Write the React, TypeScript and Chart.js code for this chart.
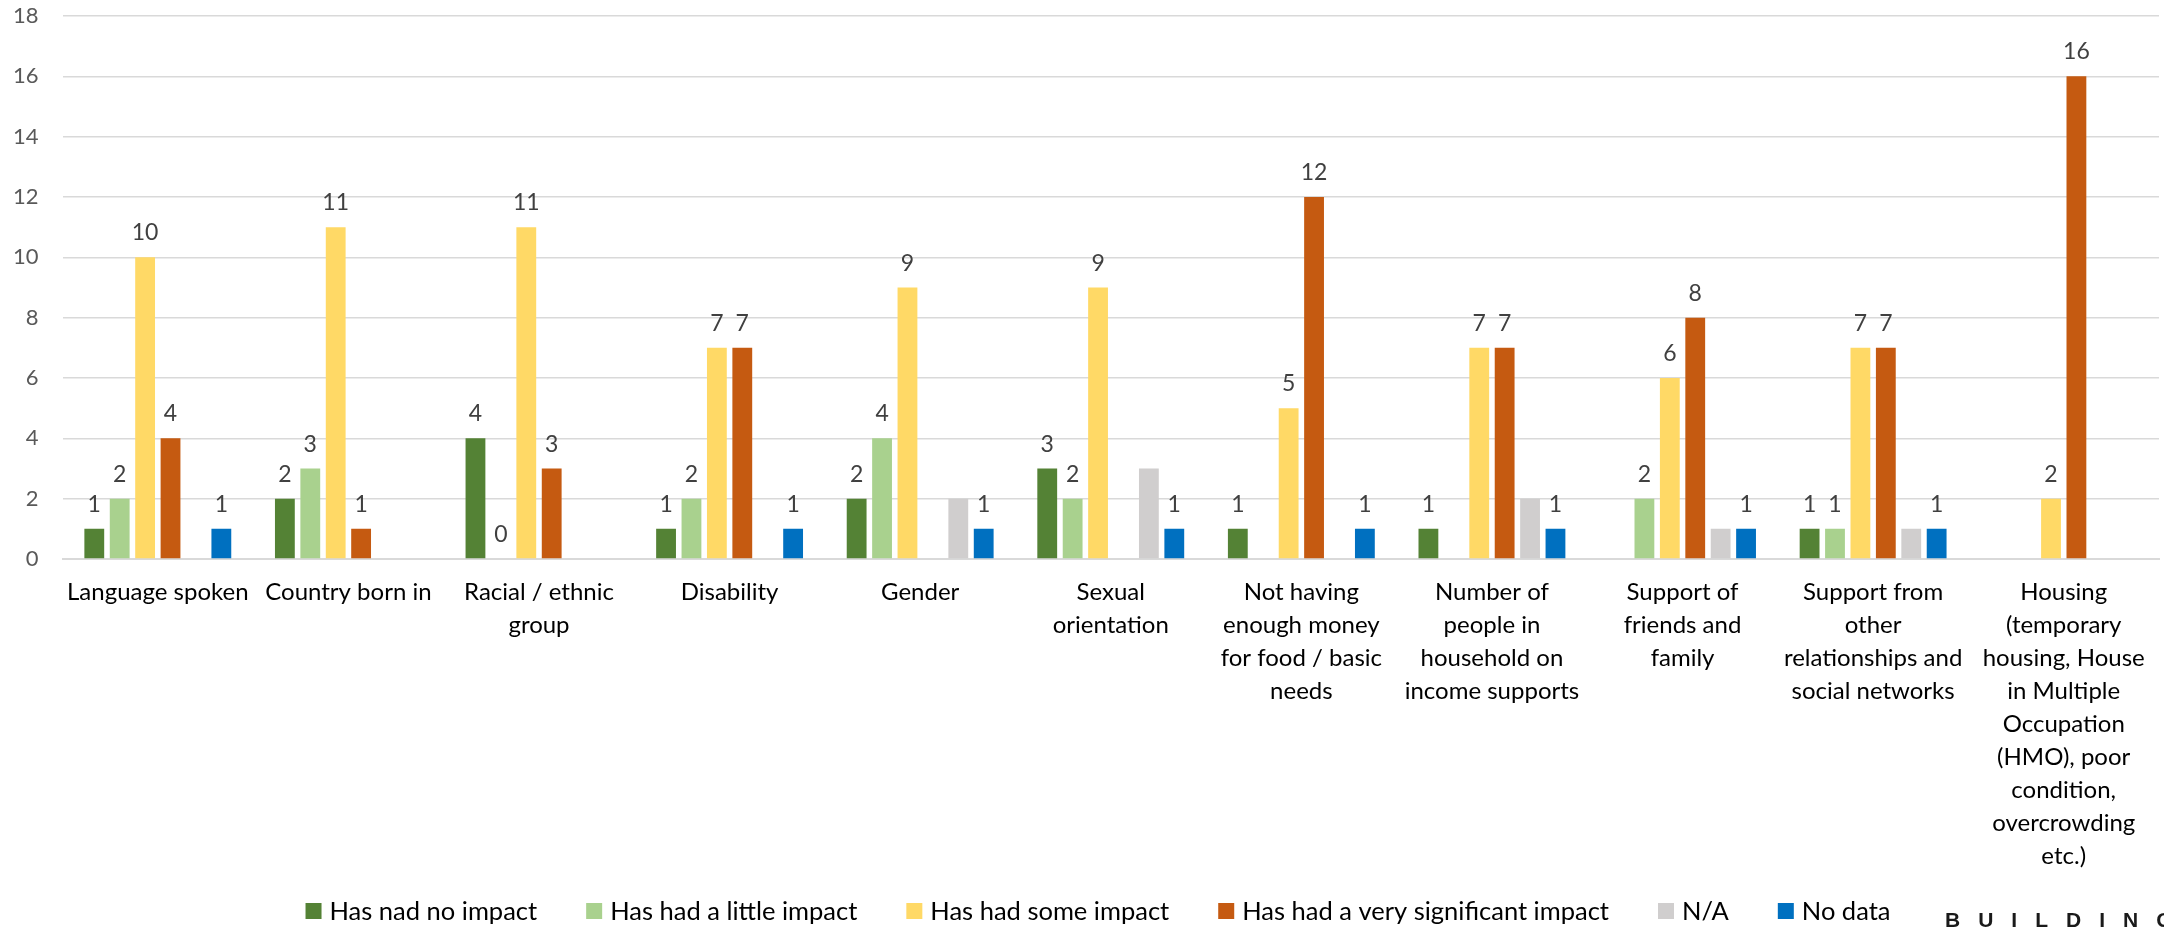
import React, { useEffect, useRef } from "react";
import { Chart, registerables } from "chart.js";

Chart.register(...registerables);

const categories: (string | string[])[] = [
  "Language spoken",
  "Country born in",
  ["Racial / ethnic", "group"],
  "Disability",
  "Gender",
  ["Sexual", "orientation"],
  ["Not having", "enough money", "for food / basic", "needs"],
  ["Number of", "people in", "household on", "income supports"],
  ["Support of", "friends and", "family"],
  ["Support from", "other", "relationships and", "social networks"],
  ["Housing", "(temporary", "housing, House", "in Multiple", "Occupation", "(HMO), poor", "condition,", "overcrowding", "etc.)"],
];

const seriesNames = [
  "Has nad no impact",
  "Has had a little impact",
  "Has had some impact",
  "Has had a very significant impact",
  "N/A",
  "No data",
];

const noImpact = [1, 2, 4, 1, 2, 3, 1, 1, null, 1, null];
const littleImpact = [2, 3, 0, 2, 4, 2, null, null, 2, 1, null];
const someImpact = [10, 11, 11, 7, 9, 9, 5, 7, 6, 7, 2];
const significantImpact = [4, 1, 3, 7, null, null, 12, 7, 8, 7, 16];
const notApplicable = [null, null, null, null, 2, 3, null, 2, 1, 1, null];
const noData = [1, null, null, 1, 1, 1, 1, 1, 1, 1, null];

const seriesColors = ["#548235", "#A9D18E", "#FFD966", "#C55A11", "#D0CECE", "#0070C0"];
const showValueLabels = [true, true, true, true, false, true];

const yTicks = [0, 2, 4, 6, 8, 10, 12, 14, 16, 18];

const brandText = "BUILDING";

const FONT = "Lato, 'Open Sans', sans-serif";
const X_PAD = 17;
const Y_PAD = 24;

const valueLabelPlugin = {
  id: "valueLabels",
  afterDatasetsDraw(chart: any) {
    const ctx = chart.ctx;
    ctx.save();
    ctx.font = `23px ${FONT}`;
    ctx.fillStyle = "#404040";
    ctx.textAlign = "center";
    ctx.textBaseline = "alphabetic";
    chart.data.datasets.forEach((ds: any, i: number) => {
      if (!showValueLabels[i]) return;
      const meta = chart.getDatasetMeta(i);
      meta.data.forEach((bar: any, j: number) => {
        const v = ds.data[j];
        if (v === null || v === undefined) return;
        ctx.fillText(String(v), bar.x, bar.y - 17);
      });
    });
    ctx.restore();
  },
};

const customLegendPlugin = {
  id: "customLegend",
  afterDraw(chart: any) {
    const ctx = chart.ctx;
    ctx.save();
    ctx.font = `25.5px ${FONT}`;
    const box = 16;
    const boxGap = 8;
    const itemGap = 49;
    const items = chart.data.datasets.map((ds: any) => ({
      text: ds.label as string,
      color: ds.backgroundColor as string,
      w: ctx.measureText(ds.label).width,
    }));
    const total =
      items.reduce((s: number, it: any) => s + box + boxGap + it.w, 0) + itemGap * (items.length - 1);
    let x = 1098 - total / 2;
    const cy = 911;
    ctx.textAlign = "left";
    ctx.textBaseline = "middle";
    items.forEach((it: any) => {
      ctx.fillStyle = it.color;
      ctx.fillRect(x, cy - box / 2, box, box);
      ctx.fillStyle = "#000";
      ctx.fillText(it.text, x + box + boxGap, cy + 1);
      x += box + boxGap + it.w + itemGap;
    });
    ctx.restore();
  },
};

const brandPlugin = {
  id: "brand",
  afterDraw(chart: any) {
    const ctx = chart.ctx;
    ctx.save();
    ctx.font = `bold 21px 'Liberation Sans', Arial, sans-serif`;
    ctx.fillStyle = "#1a1a1a";
    ctx.textAlign = "left";
    ctx.textBaseline = "alphabetic";
    (ctx as any).letterSpacing = "18px";
    ctx.fillText(brandText, 1945, 927);
    ctx.restore();
  },
};

export default function App() {
  const canvasRef = useRef<HTMLCanvasElement | null>(null);

  useEffect(() => {
    document.body.style.margin = "0";
    const canvas = canvasRef.current;
    if (!canvas) return;
    const values = [noImpact, littleImpact, someImpact, significantImpact, notApplicable, noData];
    const chart = new Chart(canvas, {
      type: "bar",
      data: {
        labels: categories,
        datasets: seriesNames.map((name, i) => ({
          label: name,
          data: values[i],
          backgroundColor: seriesColors[i],
          borderWidth: 0,
          categoryPercentage: 0.8,
          barPercentage: 0.78,
        })),
      },
      options: {
        animation: false,
        responsive: false,
        maintainAspectRatio: false,
        layout: { padding: { left: 13, right: 5, top: 16, bottom: 55 } },
        plugins: {
          legend: { display: false },
          tooltip: { enabled: false },
        },
        scales: {
          x: {
            afterFit(scale: any) {
              scale.paddingLeft = 0;
              scale.paddingRight = 0;
              scale.height = scale.height - X_PAD;
            },
            grid: { display: false, drawTicks: false },
            border: { color: "#D9D9D9", width: 2 },
            ticks: {
              autoSkip: false,
              maxRotation: 0,
              minRotation: 0,
              padding: X_PAD,
              color: "#000",
              font: { family: FONT, size: 24, lineHeight: 1.375 },
            },
          },
          y: {
            min: 0,
            max: 18,
            afterBuildTicks(scale: any) {
              scale.ticks = yTicks.map((v) => ({ value: v }));
            },
            afterFit(scale: any) {
              scale.paddingTop = 0;
              scale.paddingBottom = 0;
              scale.width = scale.width - Y_PAD;
            },
            grid: { color: "#D9D9D9", lineWidth: 1.5, drawTicks: false },
            border: { display: false },
            ticks: {
              padding: Y_PAD,
              color: "#595959",
              font: { family: FONT, size: 22 },
            },
          },
        },
      },
      plugins: [valueLabelPlugin, customLegendPlugin, brandPlugin],
    });
    return () => chart.destroy();
  }, []);

  return (
    <div style={{ width: 2164, height: 928, position: "relative" }}>
      <canvas ref={canvasRef} width={2164} height={928} style={{ width: 2164, height: 928, display: "block" }} />
    </div>
  );
}
